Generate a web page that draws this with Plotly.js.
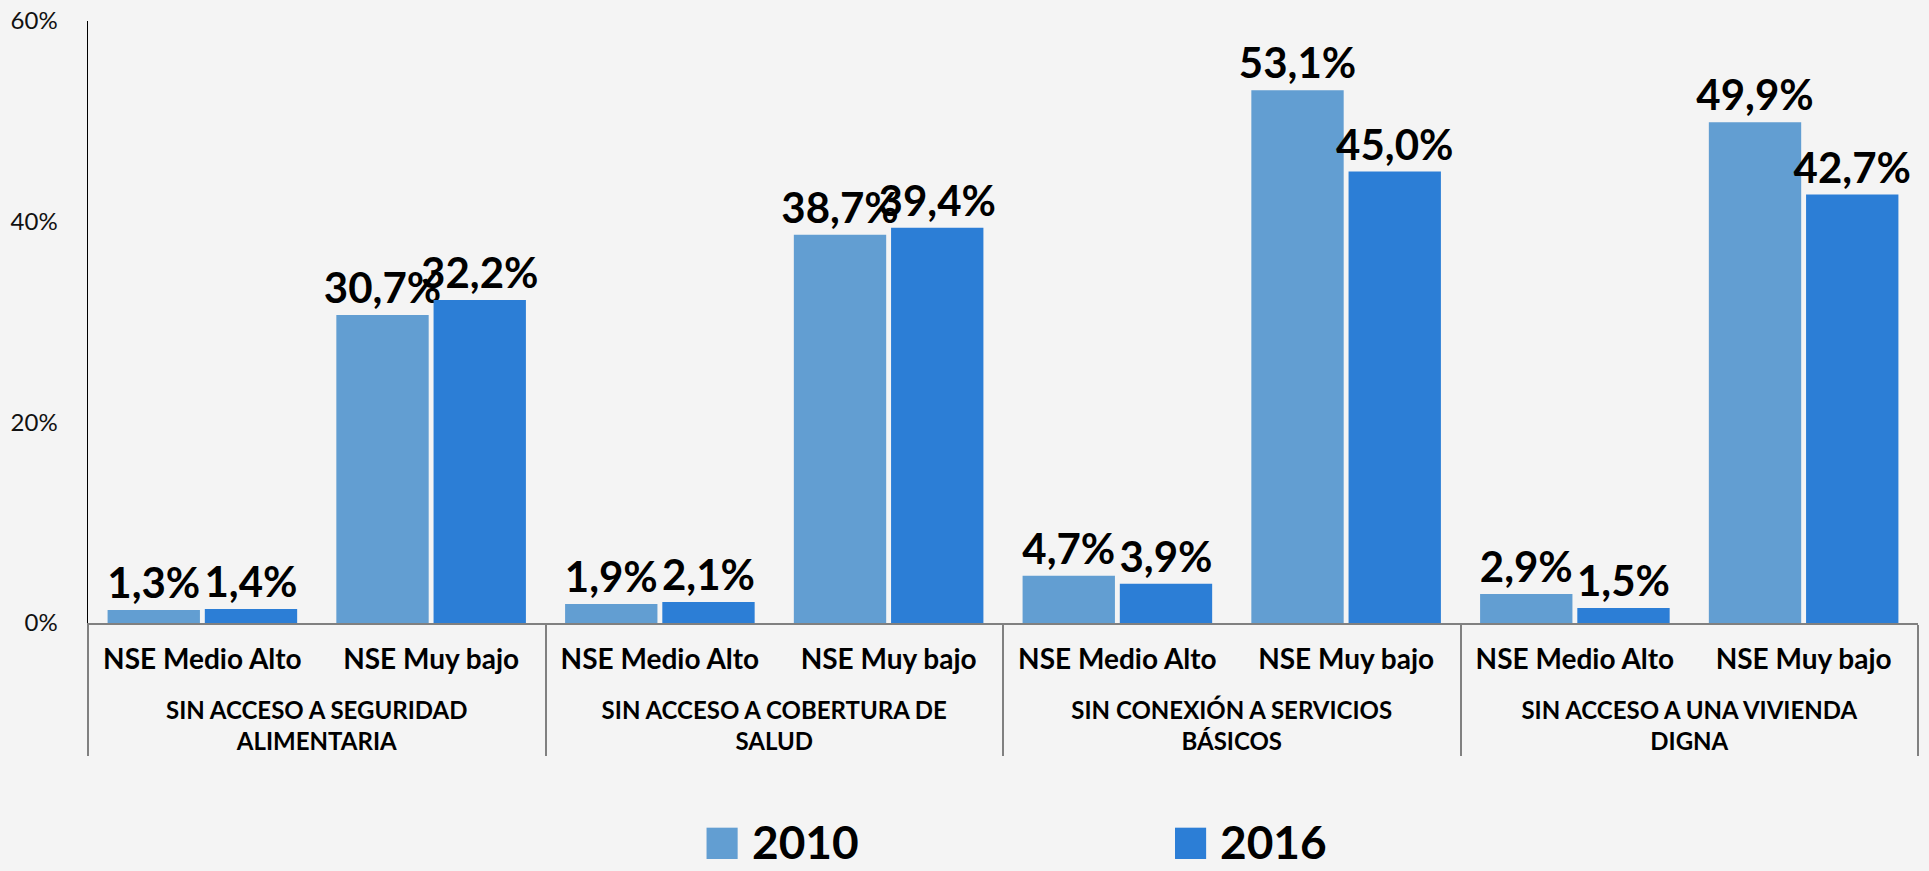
<!DOCTYPE html>
<html>
<head>
<meta charset="utf-8">
<script src="https://cdn.plot.ly/plotly-3.0.1.min.js"></script>
<style>
html,body{margin:0;padding:0;background:#f4f4f4;}
#chart{width:1929px;height:871px;}
</style>
</head>
<body>
<div id="chart"></div>
<script>
const categories = [
  "SIN ACCESO A SEGURIDAD<br>ALIMENTARIA",
  "SIN ACCESO A COBERTURA DE<br>SALUD",
  "SIN CONEXIÓN A SERVICIOS<br>BÁSICOS",
  "SIN ACCESO A UNA VIVIENDA<br>DIGNA"
];
const groups = ["NSE Medio Alto", "NSE Muy bajo"];
const seriesNames = ["2010", "2016"];
const values2010 = [1.3, 30.7, 1.9, 38.7, 4.7, 53.1, 2.9, 49.9];
const values2016 = [1.4, 32.2, 2.1, 39.4, 3.9, 45.0, 1.5, 42.7];
const colors = ["#629ED2", "#2C7ED6"];
const yTicks = [0, 20, 40, 60];
const yTickText = yTicks.map(v => v + "%");

const xCat = [], xSub = [];
categories.forEach(c => groups.forEach(g => {
  xCat.push(c);
  // larger sub-level font plus a blank spacer line to push the category level down
  xSub.push("<span style='font-size:28px'>" + g + "</span><br><span style='font-size:20px'>\u00a0</span>");
}));

const FONT = "Lato, 'DejaVu Sans', sans-serif";

const traces = [values2010, values2016].map((vals, i) => ({
  type: "bar",
  name: seriesNames[i],
  x: [xCat, xSub],
  y: vals,
  marker: {color: colors[i]},
  texttemplate: "%{y:.1f}%",
  textposition: "outside",
  constraintext: "none",
  cliponaxis: false,
  textfont: {family: FONT, size: 42, weight: 700, color: "#000"},
  showlegend: false,
  hoverinfo: "x+y"
}));

// custom legend (symbols larger than plotly's fixed legend swatch)
const legX = [0.338, 0.594];
const shapes = [], annotations = [];
seriesNames.forEach((n, i) => {
  shapes.push({type: "rect", xref: "paper", yref: "paper",
    x0: legX[i], x1: legX[i] + 0.0170, y0: -0.392, y1: -0.340,
    fillcolor: colors[i], line: {width: 0}});
  annotations.push({xref: "paper", yref: "paper", x: legX[i] + 0.0235, y: -0.363,
    xanchor: "left", yanchor: "middle", showarrow: false, text: n,
    font: {family: FONT, size: 46, weight: 700, color: "#000"}});
});

const layout = {
  width: 1929, height: 871,
  paper_bgcolor: "#f4f4f4", plot_bgcolor: "#f4f4f4",
  margin: {l: 88, r: 11, t: 21, b: 248},
  separators: ",.",
  barmode: "group",
  bargap: 0.15,
  bargroupgap: 0.05,
  showlegend: false,
  xaxis: {
    type: "multicategory",
    showline: true, linecolor: "#808080", linewidth: 2,
    showdividers: true, dividercolor: "#808080", dividerwidth: 2,
    tickfont: {family: FONT, size: 24, weight: 700, color: "#000"},
    ticklabelstandoff: 15,
    ticks: "", showgrid: false, zeroline: false
  },
  yaxis: {
    range: [0, 60], tickvals: yTicks, ticktext: yTickText,
    showline: true, linecolor: "#000", linewidth: 1.5,
    showgrid: false, zeroline: false, ticks: "",
    ticklabelstandoff: 24,
    tickfont: {family: FONT, size: 24, color: "#111"}
  },
  shapes: shapes,
  annotations: annotations
};

Plotly.newPlot("chart", traces, layout, {displayModeBar: false, staticPlot: true});
</script>
</body>
</html>
